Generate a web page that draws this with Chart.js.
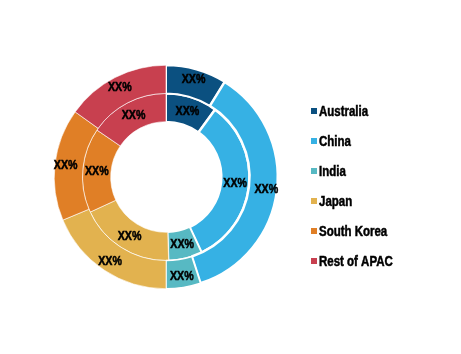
<!DOCTYPE html>
<html>
<head>
<meta charset="utf-8">
<script src="https://cdn.jsdelivr.net/npm/chart.js@4"></script>
<style>
  html, body { margin: 0; padding: 0; background: #fff; }
  #wrap { width: 461px; height: 354px; }
</style>
</head>
<body>
<div id="wrap"><canvas id="myChart" width="461" height="354"></canvas></div>
<script>
const regions = ['Australia', 'China', 'India', 'Japan', 'South Korea', 'Rest of APAC'];
const outerShare = [8.8, 36.2, 5.0, 18.7, 16.2, 15.1];
const innerShare = [10.0, 33.0, 6.5, 18.6, 16.4, 15.5];
const sliceLabel = 'XX%';
const colors = ['#0b5080', '#36b1e4', '#57b9c3', '#e2b24f', '#e07f26', '#c8404f'];
const borders = [2, 2.5, 1.5, 0.6, 0.6, 0.6];

const labelFont = 'bold 13px "Liberation Sans", Arial, sans-serif';
const legendFont = 'bold 14px "Liberation Sans", Arial, sans-serif';
const squeeze = 0.82; // the original type is a condensed bold

function narrowText(ctx, text, x, y) {
  ctx.save();
  ctx.translate(x, y);
  ctx.scale(squeeze, 1);
  ctx.lineWidth = 0.5;
  ctx.strokeStyle = '#000';
  ctx.strokeText(text, 0, 0);
  ctx.fillText(text, 0, 0);
  ctx.restore();
}

// writes "XX%" inside every arc
const sliceText = {
  id: 'sliceText',
  afterDatasetsDraw(chart) {
    const ctx = chart.ctx;
    ctx.save();
    ctx.font = labelFont;
    ctx.fillStyle = '#000';
    ctx.textAlign = 'center';
    ctx.textBaseline = 'middle';
    chart.data.datasets.forEach((ds, i) => {
      const k = i === 0 ? 0.62 : 0.5;
      chart.getDatasetMeta(i).data.forEach(arc => {
        const p = arc.getProps(['x', 'y', 'startAngle', 'endAngle', 'innerRadius', 'outerRadius'], true);
        const a = (p.startAngle + p.endAngle) / 2;
        const r = p.innerRadius + (p.outerRadius - p.innerRadius) * k;
        narrowText(ctx, sliceLabel, p.x + Math.cos(a) * r, p.y + Math.sin(a) * r);
      });
    });
    ctx.restore();
  }
};

// legend column on the right
const sideLegend = {
  id: 'sideLegend',
  afterDraw(chart) {
    const ctx = chart.ctx;
    const x0 = 311, y0 = 111, step = 30, box = 6;
    ctx.save();
    ctx.font = legendFont;
    ctx.textBaseline = 'middle';
    chart.data.labels.forEach((lab, i) => {
      const y = y0 + i * step;
      ctx.fillStyle = colors[i];
      ctx.fillRect(x0, y - box / 2, box, box);
      ctx.fillStyle = '#000';
      narrowText(ctx, lab, x0 + 8, y + 1);
    });
    ctx.restore();
  }
};

new Chart(document.getElementById('myChart'), {
  type: 'doughnut',
  data: {
    labels: regions,
    datasets: [{
      data: outerShare,
      backgroundColor: colors,
      borderColor: '#fff',
      borderWidth: borders
    }, {
      data: innerShare,
      backgroundColor: colors,
      borderColor: '#fff',
      borderWidth: borders
    }]
  },
  options: {
    responsive: false,
    animation: false,
    cutout: '49.5%',
    layout: { padding: { left: 53, right: 182, top: 63, bottom: 63 } },
    plugins: {
      legend: { display: false },
      tooltip: { enabled: false }
    }
  },
  plugins: [sliceText, sideLegend]
});
</script>
</body>
</html>
